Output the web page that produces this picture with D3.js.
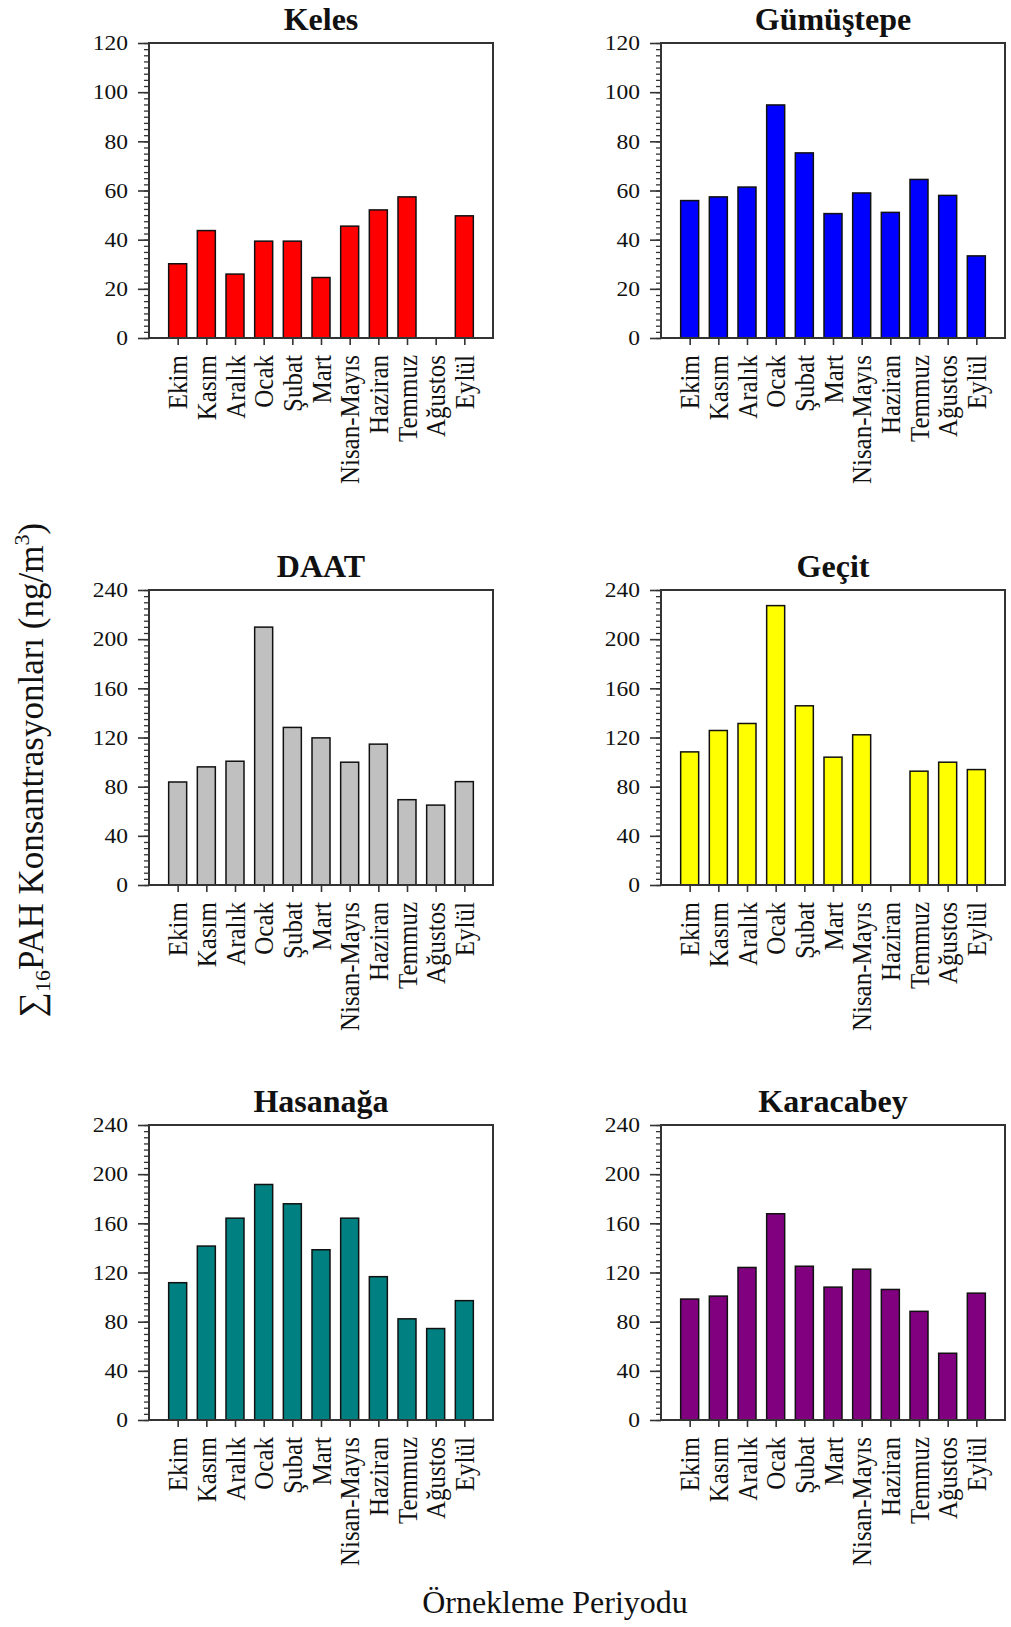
<!DOCTYPE html>
<html>
<head>
<meta charset="utf-8">
<script src="https://cdn.jsdelivr.net/npm/d3@7"></script>
<style>
body { margin:0; background:#fff; }
text { font-family:'Liberation Serif','Times New Roman',serif; fill:#111; }
</style>
</head>
<body>
<div id="chartArea"></div>
<script>
// ay isimleri (x ekseni)
var months = ['Ekim','Kasım','Aralık','Ocak','Şubat','Mart','Nisan-Mayıs','Haziran','Temmuz','Ağustos','Eylül'];

var stations = ['Keles','Gümüştepe','DAAT','Geçit','Hasanağa','Karacabey'];
var colors = ['#ff0000','#0000ff','#c0c0c0','#ffff00','#008080','#800080'];
var yMax = [120, 120, 240, 240, 240, 240];
var yMajor = [20, 20, 40, 40, 40, 40];

// ∑16PAH degerleri (ng/m3), null = olcum yok
var keles     = [30.2, 43.7, 26.0, 39.4, 39.4, 24.6, 45.5, 52.1, 57.4, null, 49.7];
var gumustepe = [55.9, 57.4, 61.4, 94.8, 75.3, 50.6, 59.0, 51.1, 64.5, 58.0, 33.4];
var daat      = [83.8, 96.1, 100.7, 209.8, 128.2, 119.7, 99.9, 114.6, 69.4, 65.0, 84.1];
var gecit     = [108.3, 125.7, 131.4, 227.3, 145.8, 104.0, 122.2, null, 92.6, 99.9, 93.9];
var hasanaga  = [111.7, 141.5, 164.2, 191.6, 175.9, 138.5, 164.2, 116.6, 82.3, 74.4, 97.1];
var karacabey = [98.4, 100.8, 124.1, 167.8, 125.1, 108.1, 122.7, 106.2, 88.4, 54.3, 103.2];

var seriesList = [keles, gumustepe, daat, gecit, hasanaga, karacabey];

var W = 1011, H = 1627;
var colLeft = [149, 661];
var rowTop = [43, 590, 1125];
var plotW = 344, plotH = 295;
var barW = 18;

var svg = d3.select('#chartArea').append('svg')
	.attr('width', W)
	.attr('height', H);

for(var i=0; i<stations.length; i++){
	drawPanel(i, colLeft[i%2], rowTop[Math.floor(i/2)]);
}

// ortak eksen basliklari
var yLab = svg.append('text')
	.attr('transform', 'translate(43,770) rotate(-90)')
	.attr('text-anchor', 'middle')
	.style('font-size', '35px');
yLab.append('tspan').text('∑');
yLab.append('tspan').attr('dy', 7).style('font-size', '22px').text('16');
yLab.append('tspan').attr('dy', -7).text('PAH Konsantrasyonları (ng/m');
yLab.append('tspan').attr('dy', -14).style('font-size', '22px').text('3');
yLab.append('tspan').attr('dy', 14).text(')');

svg.append('text')
	.attr('x', 555)
	.attr('y', 1613)
	.attr('text-anchor', 'middle')
	.style('font-size', '32px')
	.text('Örnekleme Periyodu');

function drawPanel(idx, left, top){
	var data = seriesList[idx];
	var g = svg.append('g').attr('transform', 'translate(' + left + ',' + top + ')');

	var x = d3.scalePoint().domain(months).range([0, plotW]).padding(1);
	var y = d3.scaleLinear().domain([0, yMax[idx]]).range([plotH, 0]);

	var major = d3.range(0, yMax[idx] + 0.1, yMajor[idx]);
	var minor = d3.range(0, yMax[idx] + 0.1, yMajor[idx] / 8);

	// minor ticks
	var minorAxis = g.append('g').call(d3.axisLeft(y).tickValues(minor).tickSize(5).tickFormat(''));
	minorAxis.select('.domain').remove();
	minorAxis.selectAll('line').attr('stroke', '#333').attr('stroke-width', 1.3);

	// major ticks + labels
	var yAxis = g.append('g').call(d3.axisLeft(y).tickValues(major).tickSize(11).tickPadding(10).tickFormat(d3.format('d')));
	yAxis.select('.domain').remove();
	yAxis.selectAll('line').attr('stroke', '#333').attr('stroke-width', 1.6);
	yAxis.selectAll('text')
		.style('font-size', '21px')
		.style('font-family', "'Liberation Serif','Times New Roman',serif")
		.attr('fill', '#222')
		.attr('transform', function(){
			var tx = d3.select(this).attr('x');
			return 'translate(' + (tx * 1) + ',0) scale(1.12,1) translate(' + (-tx) + ',0)';
		});

	// bars
	g.selectAll('.bar')
		.data(months.map(function(m, j){ return {m:m, v:data[j]}; }).filter(function(d){ return d.v != null; }))
		.enter().append('rect')
		.attr('class', 'bar')
		.attr('x', function(d){ return x(d.m) - barW/2; })
		.attr('y', function(d){ return y(d.v); })
		.attr('width', barW)
		.attr('height', function(d){ return plotH - y(d.v); })
		.attr('fill', colors[idx])
		.attr('stroke', '#111')
		.attr('stroke-width', 1.5);

	// x axis
	var xAxis = g.append('g')
		.attr('transform', 'translate(0,' + plotH + ')')
		.call(d3.axisBottom(x).tickSize(7).tickSizeOuter(0));
	xAxis.select('.domain').remove();
	xAxis.selectAll('line').attr('stroke', '#333').attr('stroke-width', 1.6);
	xAxis.selectAll('text')
		.style('font-size', '25px')
		.style('font-family', "'Liberation Serif','Times New Roman',serif")
		.attr('fill', '#222')
		.attr('text-anchor', 'end')
		.attr('x', 0)
		.attr('y', 0)
		.attr('dy', '0.33em')
		.attr('transform', 'translate(0,17) rotate(-90) scale(1,1.12)');

	// frame
	g.append('rect')
		.attr('x', 0).attr('y', 0)
		.attr('width', plotW).attr('height', plotH)
		.attr('fill', 'none')
		.attr('stroke', '#333')
		.attr('stroke-width', 2);

	// title
	g.append('text')
		.attr('x', plotW/2)
		.attr('y', -13)
		.attr('text-anchor', 'middle')
		.style('font-size', '32px')
		.style('font-weight', 'bold')
		.text(stations[idx]);
}
</script>
</body>
</html>
